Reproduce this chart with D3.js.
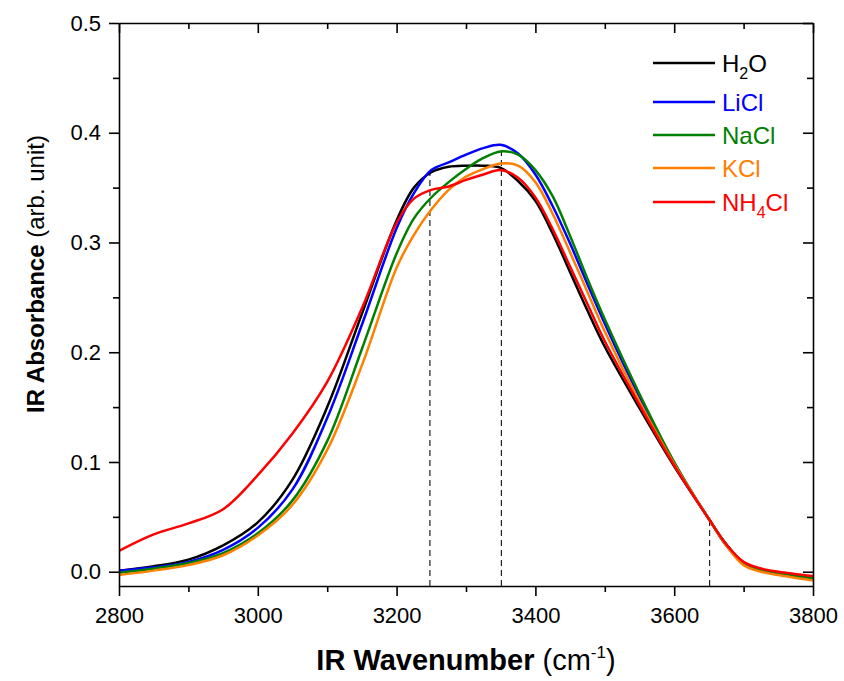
<!DOCTYPE html>
<html>
<head>
<meta charset="utf-8">
<script src="https://cdn.jsdelivr.net/npm/d3@7"></script>
<style>
  body { margin: 0; background: #fff; }
  svg { display: block; font-family: "Liberation Sans", Arial, sans-serif; }
</style>
</head>
<body>
<div id="chart"></div>
<script>
// wavenumber grid (cm-1)
const wavenumbers = [2800, 2850, 2900, 2950, 3000, 3050, 3100, 3150, 3200, 3225, 3250, 3275, 3300, 3325, 3350,
  3375, 3400, 3425, 3450, 3475, 3500, 3550, 3600, 3650, 3675, 3700, 3725, 3750, 3800];

const h2o = [0.001, 0.005, 0.011, 0.024, 0.045, 0.084, 0.150, 0.235, 0.320, 0.350, 0.364, 0.369, 0.370, 0.370, 0.368,
  0.356, 0.338, 0.308, 0.273, 0.238, 0.205, 0.149, 0.096, 0.048, 0.024, 0.008, 0.002, -0.001, -0.006];
const licl = [0.001, 0.004, 0.009, 0.020, 0.040, 0.075, 0.140, 0.225, 0.313, 0.345, 0.366, 0.373, 0.380, 0.386, 0.389,
  0.381, 0.362, 0.333, 0.299, 0.262, 0.226, 0.159, 0.099, 0.048, 0.025, 0.008, 0.002, -0.001, -0.006];
const nacl = [-0.001, 0.003, 0.008, 0.017, 0.035, 0.065, 0.119, 0.203, 0.290, 0.322, 0.341, 0.355, 0.367, 0.377, 0.383,
  0.380, 0.366, 0.342, 0.306, 0.267, 0.230, 0.162, 0.100, 0.048, 0.025, 0.008, 0.002, -0.001, -0.006];
const kcl = [-0.003, 0.001, 0.006, 0.015, 0.033, 0.061, 0.111, 0.188, 0.277, 0.307, 0.330, 0.348, 0.360, 0.367, 0.372,
  0.370, 0.355, 0.326, 0.291, 0.255, 0.219, 0.155, 0.098, 0.048, 0.024, 0.006, 0.000, -0.003, -0.008];
const nh4cl = [0.019, 0.034, 0.044, 0.057, 0.088, 0.126, 0.173, 0.240, 0.318, 0.340, 0.348, 0.351, 0.357, 0.362, 0.366,
  0.359, 0.341, 0.312, 0.278, 0.244, 0.210, 0.152, 0.097, 0.048, 0.025, 0.009, 0.003, 0.000, -0.004];

const seriesNames = ["H2O", "LiCl", "NaCl", "KCl", "NH4Cl"];
const seriesValues = [h2o, licl, nacl, kcl, nh4cl];
const seriesColors = ["#000000", "#0000ff", "#008000", "#ff8000", "#ff0000"];

// dashed guide lines: position and height
const guideX = [3248, 3351, 3651];
const guideTop = [0.364, 0.388, 0.049];

const xTicks = [2800, 3000, 3200, 3400, 3600, 3800];
const yTicks = [0.0, 0.1, 0.2, 0.3, 0.4, 0.5];

const width = 844, height = 681;
const margin = { top: 23, right: 31, bottom: 95, left: 119 };
const innerW = width - margin.left - margin.right;
const innerH = height - margin.top - margin.bottom;

const svg = d3.select("#chart").append("svg")
  .attr("width", width)
  .attr("height", height);

const x = d3.scaleLinear().domain([2800, 3800]).range([0, innerW]);
const y = d3.scaleLinear().domain([-0.013, 0.5]).range([innerH, 0]);

const g = svg.append("g").attr("transform", `translate(${margin.left},${margin.top})`);

// clip for curves
svg.append("defs").append("clipPath").attr("id", "clip")
  .append("rect").attr("width", innerW).attr("height", innerH);

// dashed lines
g.selectAll(".guide")
  .data(guideX)
  .enter()
  .append("line")
  .attr("class", "guide")
  .attr("x1", d => x(d))
  .attr("x2", d => x(d))
  .attr("y1", innerH)
  .attr("y2", (d, i) => y(guideTop[i]))
  .attr("stroke", "#222")
  .attr("stroke-width", 1.2)
  .attr("stroke-dasharray", "6,4");

const line = d3.line()
  .x((d, i) => x(wavenumbers[i]))
  .y(d => y(d))
  .curve(d3.curveCatmullRom.alpha(0.5));

g.append("g").attr("clip-path", "url(#clip)")
  .selectAll("path")
  .data(seriesValues)
  .enter()
  .append("path")
  .attr("d", d => line(d))
  .attr("fill", "none")
  .attr("stroke", (d, i) => seriesColors[i])
  .attr("stroke-width", 2.5)
  .attr("stroke-linejoin", "round");

// axes: bottom/left outward ticks, top/right inward
const xMinor = d3.range(2900, 3800, 200);
const yMinor = d3.range(0.05, 0.5, 0.1);

function styleAxis(sel) {
  sel.selectAll("path").attr("stroke", "#000").attr("stroke-width", 1.6);
  sel.selectAll("line").attr("stroke", "#000").attr("stroke-width", 1.6);
  sel.selectAll("text").attr("font-size", 22).attr("fill", "#000");
}

const axBottom = g.append("g").attr("transform", `translate(0,${innerH})`)
  .call(d3.axisBottom(x).tickValues(xTicks).tickSize(10).tickPadding(11)
    .tickFormat(d3.format("d")).tickSizeOuter(0));
axBottom.call(styleAxis);
g.append("g").attr("transform", `translate(0,${innerH})`)
  .call(d3.axisBottom(x).tickValues(xMinor).tickSize(6).tickFormat("").tickSizeOuter(0))
  .call(styleAxis).select(".domain").remove();

const axLeft = g.append("g")
  .call(d3.axisLeft(y).tickValues(yTicks).tickSize(10).tickPadding(8).tickFormat(d3.format(".1f")).tickSizeOuter(0));
axLeft.call(styleAxis);
g.append("g")
  .call(d3.axisLeft(y).tickValues(yMinor).tickSize(6).tickFormat("").tickSizeOuter(0))
  .call(styleAxis).select(".domain").remove();

const axTop = g.append("g")
  .call(d3.axisTop(x).tickValues(xTicks).tickSize(-10).tickFormat("").tickSizeOuter(0));
axTop.call(styleAxis);
g.append("g")
  .call(d3.axisTop(x).tickValues(xMinor).tickSize(-6).tickFormat("").tickSizeOuter(0))
  .call(styleAxis).select(".domain").remove();

const axRight = g.append("g").attr("transform", `translate(${innerW},0)`)
  .call(d3.axisRight(y).tickValues(yTicks).tickSize(-10).tickFormat("").tickSizeOuter(0));
axRight.call(styleAxis);
g.append("g").attr("transform", `translate(${innerW},0)`)
  .call(d3.axisRight(y).tickValues(yMinor).tickSize(-6).tickFormat("").tickSizeOuter(0))
  .call(styleAxis).select(".domain").remove();

// axis titles
const xt = svg.append("text")
  .attr("x", margin.left + innerW / 2)
  .attr("y", 670)
  .attr("text-anchor", "middle")
  .attr("font-size", 29)
  .attr("fill", "#000");
xt.append("tspan").attr("font-weight", "bold").text("IR Wavenumber ");
xt.append("tspan").text("(cm");
xt.append("tspan").attr("font-size", 17).attr("dy", -12).text("-1");
xt.append("tspan").attr("dy", 12).text(")");

const yt = svg.append("text")
  .attr("transform", "translate(44,274) rotate(-90)")
  .attr("text-anchor", "middle")
  .attr("font-size", 24)
  .attr("fill", "#000");
yt.append("tspan").attr("font-weight", "bold").text("IR Absorbance ");
yt.append("tspan").text("(arb. unit)");

// legend
const legendY = [63, 102, 135, 168, 202];
const legend = svg.append("g");
seriesNames.forEach((name, i) => {
  const row = legend.append("g").attr("transform", `translate(653,${legendY[i]})`);
  row.append("line")
    .attr("x1", 0).attr("x2", 62)
    .attr("stroke", seriesColors[i])
    .attr("stroke-width", 2.5);
  const t = row.append("text")
    .attr("x", 69)
    .attr("y", 9)
    .attr("font-size", 24)
    .attr("fill", seriesColors[i]);
  const m = name.match(/^([A-Za-z]+)(\d)(.*)$/);
  if (m) {
    t.append("tspan").text(m[1]);
    t.append("tspan").attr("font-size", 16).attr("dy", 7).text(m[2]);
    t.append("tspan").attr("dy", -7).text(m[3]);
  } else {
    t.text(name);
  }
});
</script>
</body>
</html>
